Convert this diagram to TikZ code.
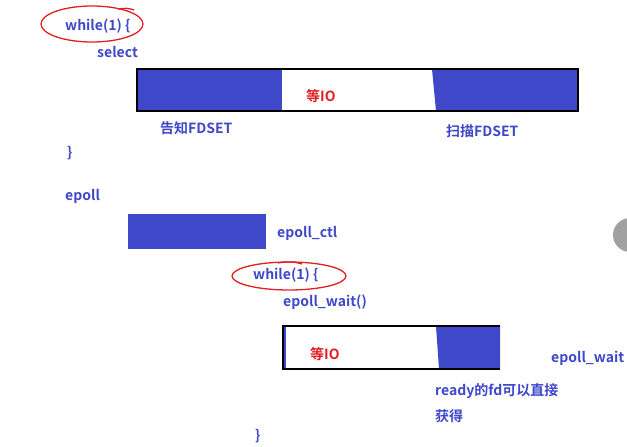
\documentclass[tikz,border=0pt]{standalone}
\usepackage{fontspec}
\setmainfont{Noto Sans CJK SC}[BoldFont={* Bold}]
\usepackage{tikz}
\usetikzlibrary{positioning}

\definecolor{codeblue}{RGB}{62,72,200}
\definecolor{markred}{RGB}{225,30,35}

\begin{document}
\begin{tikzpicture} [x=1pt, y=-1pt,
        code/.style = {text=codeblue, font=\bfseries\fontsize{14}{16}\selectfont, anchor=west, inner sep=0pt},
        waitio/.style = {code, text=markred},
        ring/.style = {draw=markred, line width=1.3pt},
        bar/.style = {fill=codeblue, draw=none}]
        \useasboundingbox (0,0) rectangle (627,447);

        % select
        \node (loop1) [code] at (65,26) {while(1) \{};
        \node (sel) [code] at (97,52) {select};
        \draw [ring] (92,24) ellipse [x radius=51, y radius=18];
        \draw [ring] (118,9) .. controls (124,8) and (129,8) .. (134,10);

        \fill [bar] (137,69) rectangle (282,111);
        \fill [bar] (432,69) -- (578,69) -- (578,111) -- (436,111) -- cycle;
        \draw [line width=2.6pt] (137,69) rectangle (578,111);
        \node (io1) [waitio] at (306,96) {等IO};
        \node (tell) [code] at (160,128) {告知FDSET};
        \node (scan) [code] at (446,131) {扫描FDSET};
        \node (end1) [code] at (67,153) {\}};

        % epoll
        \node (ep) [code] at (65,196) {epoll};
        \fill [bar] (128,214) rectangle (266,249);
        \node (ctl) [code] at (277,233) {epoll\_ctl};

        \node (loop2) [code] at (253,275) {while(1) \{};
        \draw [ring] (289,276) ellipse [x radius=57, y radius=14];
        \draw [ring] (278,263) .. controls (288,261) and (296,262) .. (302,264);
        \node (wait) [code] at (283,302) {epoll\_wait()};

        \fill [bar] (436,326) -- (500,326) -- (500,369) -- (439,369) -- cycle;
        \draw [line width=1.8pt] (500,326) -- (283,326) -- (283,369) -- (500,369);
        \draw [codeblue, line width=1.8pt] (285,327) -- (285,368);
        \node (io2) [waitio] at (310,354) {等IO};
        \node (ewait) [code] at (551,358) {epoll\_wait};
        \node (ready) [code] at (435,391) {ready的fd可以直接};
        \node (get) [code] at (435,416) {获得};
        \node (end2) [code] at (255,436) {\}};

        \begin{scope}
            \clip (0,0) rectangle (627,447);
            \fill [black!37] (630,235) circle [radius=17];
        \end{scope}
    \end{tikzpicture}
\end{document}
